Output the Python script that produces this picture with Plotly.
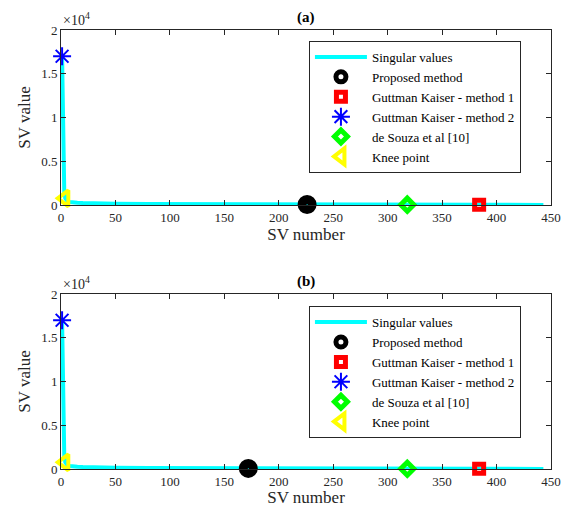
import plotly.graph_objects as go

# ---- data ----
sv_index = [1, 2, 3, 4, 5, 6, 8, 10, 15, 20, 30, 50, 80, 120, 170, 225, 300, 320, 385, 443]
sv_value = [17000, 4500, 1500, 750, 500, 420, 350, 310, 260, 230, 190, 150, 115, 90, 70, 55, 40, 37, 25, 10]

panels = ["(a)", "(b)"]
proposed_x = [226, 172]
proposed_y = [55, 70]
gk1_x = [384, 384]
gk1_y = [25, 25]
gk2_x = [1, 1]
gk2_y = [17000, 17000]
souza_x = [318, 318]
souza_y = [37, 37]
knee_x = [3.5, 3.5]
knee_y = [760, 760]

x_ticks = [0, 50, 100, 150, 200, 250, 300, 350, 400, 450]
y_ticks = [0, 5000, 10000, 15000, 20000]
y_tick_labels = ["0", "0.5", "1", "1.5", "2"]

FONT = "Liberation Serif"
AX = "#262626"

fig = go.Figure()

for i in range(2):
    xa = "x" if i == 0 else "x2"
    ya = "y" if i == 0 else "y2"
    lg = "legend" if i == 0 else "legend2"
    common = dict(xaxis=xa, yaxis=ya, legend=lg, cliponaxis=False)
    fig.add_trace(go.Scatter(x=sv_index, y=sv_value, mode="lines", name="Singular values",
                             line=dict(color="#00FFFF", width=4), **common))
    fig.add_trace(go.Scatter(x=[proposed_x[i]], y=[proposed_y[i]], mode="markers", name="Proposed method",
                             marker=dict(symbol="circle-open", size=10, color="black", line=dict(width=9, color="black")),
                             **common))
    fig.add_trace(go.Scatter(x=[gk1_x[i]], y=[gk1_y[i]], mode="markers", name="Guttman Kaiser - method 1",
                             marker=dict(symbol="square-open", size=9, color="red", line=dict(width=5, color="red")),
                             **common))
    fig.add_trace(go.Scatter(x=[gk2_x[i]], y=[gk2_y[i]], mode="markers", name="Guttman Kaiser - method 2",
                             marker=dict(symbol="asterisk-open", size=15, color="blue", line=dict(width=2, color="blue")),
                             **common))
    fig.add_trace(go.Scatter(x=[souza_x[i]], y=[souza_y[i]], mode="markers", name="de Souza et al [10]",
                             marker=dict(symbol="diamond-open", size=10, color="#00FF00", line=dict(width=5, color="#00FF00")),
                             **common))
    fig.add_trace(go.Scatter(x=[knee_x[i]], y=[knee_y[i]], mode="markers", name="Knee point",
                             marker=dict(symbol="triangle-left-open", size=14, color="#FFFF00", line=dict(width=4, color="#FFFF00")),
                             **common))

axis_common = dict(showline=True, linecolor=AX, linewidth=1, mirror="ticks", ticks="inside",
                   ticklen=5, tickcolor=AX, tickfont=dict(family=FONT, size=13, color=AX),
                   showgrid=False, zeroline=False, automargin=False)

title_font = dict(family=FONT, size=17, color=AX)
top_dom = [0.6014, 1.0]
bot_dom = [0.0, 0.3986]

legend_common = dict(xanchor="left", yanchor="top", bgcolor="white",
                     bordercolor=AX, borderwidth=1, font=dict(family=FONT, size=13, color="black"),
                     itemwidth=52, tracegroupgap=0)

# page body adds an 8px offset; figure sized so the plot areas land where the reference has them
fig.update_layout(
    width=558, height=499,
    margin=dict(l=53, r=15, t=22, b=38),
    paper_bgcolor="white", plot_bgcolor="white",
    font=dict(family=FONT, color=AX),
    xaxis=dict(domain=[0, 1], anchor="y", range=[0, 450], tickvals=x_ticks,
               title=dict(text="SV number", font=title_font, standoff=2), **axis_common),
    yaxis=dict(domain=top_dom, anchor="x", range=[0, 20000], tickvals=y_ticks, ticktext=y_tick_labels,
               title=dict(text="SV value", font=title_font, standoff=6), **axis_common),
    xaxis2=dict(domain=[0, 1], anchor="y2", range=[0, 450], tickvals=x_ticks,
                title=dict(text="SV number", font=title_font, standoff=2), **axis_common),
    yaxis2=dict(domain=bot_dom, anchor="x2", range=[0, 20000], tickvals=y_ticks, ticktext=y_tick_labels,
                title=dict(text="SV value", font=title_font, standoff=6), **axis_common),
    legend=dict(x=0.506, y=0.975, **legend_common),
    legend2=dict(x=0.506, y=0.371, **legend_common),
    showlegend=True,
)

for dom, label in zip([top_dom, bot_dom], panels):
    fig.add_annotation(text="<b>" + label + "</b>", xref="paper", yref="paper", x=0.5, y=dom[1],
                       yshift=2, xanchor="center", yanchor="bottom", showarrow=False,
                       font=dict(family=FONT, size=15, color="black"))
    fig.add_annotation(text="×10<sup>4</sup>", xref="paper", yref="paper", x=0.0, y=dom[1],
                       xanchor="left", yanchor="bottom", showarrow=False,
                       font=dict(family=FONT, size=14, color=AX))

fig.write_html("out.html")
